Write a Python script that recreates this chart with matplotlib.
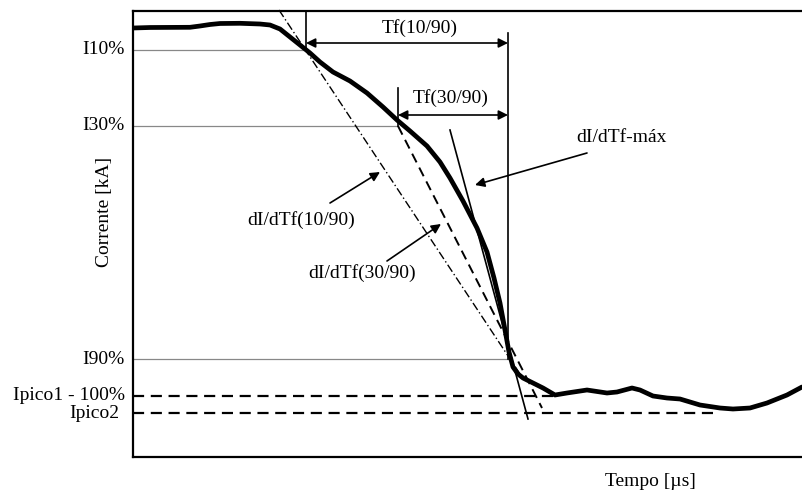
import numpy as np
import matplotlib.pyplot as plt

# Curve (x = time, y = current, both in arbitrary picture units;
# the y axis is inverted so a larger value sits lower)
t_curve = [133, 150, 190, 200, 210, 220, 240, 260, 270, 280, 290, 300, 310,
           320, 333, 350, 367, 383, 397, 410, 427, 440, 450, 463, 477, 487,
           494, 500, 505, 509, 513, 518, 523, 533, 543, 555, 567, 587, 607,
           617, 632, 640, 653, 667, 680, 700, 720, 733, 750, 767, 787, 802]
i_curve = [28, 27.5, 27.3, 26, 24.5, 23.5, 23.3, 24, 25, 29, 37, 45, 53,
           62, 72, 81, 93, 107, 120, 131, 146, 162, 178, 201, 228, 252,
           278, 303, 330, 352, 367, 374, 378, 383, 388, 395, 393, 390, 393,
           392, 388, 390, 396, 398, 399, 405, 408, 409, 408, 403, 395, 387]

# Reference levels and crossing times
level_names = ["I10%", "I30%", "I90%", "Ipico1 - 100%", "Ipico2"]
level_values = [50, 126, 359, 396, 413]
level_ends = [303, 397, 510, 555, 718]

t10, t30, t90 = 306, 398, 508

# Tangent lines (start / end points)
tan1090_t = [279, 520]
tan1090_i = [10, 374]
tan3090_t = [398, 542]
tan3090_i = [126, 408]
tanmax_t = [450, 528]
tanmax_i = [130, 419]

plt.rcParams['font.family'] = ['Liberation Serif', 'DejaVu Serif']

fig = plt.figure(figsize=(8.02, 4.92), dpi=100)
ax = fig.add_axes([133 / 802, 35 / 492, 669 / 802, 446 / 492])
ax.set_xlim(133, 802)
ax.set_ylim(457, 11)

# reference levels
for name, val, end in zip(level_names, level_values, level_ends):
    if name.startswith("Ipico"):
        ax.plot([133, end], [val, val], color='black', lw=1.6, ls=(0, (5, 3)))
    else:
        ax.plot([133, end], [val, val], color='#888888', lw=0.9)
    ax.text(-0.012 if name != "Ipico2" else -0.02, val, name, transform=ax.get_yaxis_transform(),
            ha='right', va='center', fontsize=14)

# vertical markers
ax.plot([t10, t10], [11, 50], color='black', lw=1.2)
ax.plot([t90, t90], [33, 359], color='black', lw=1.2)
ax.plot([t30, t30], [88, 126], color='black', lw=1.2)

# tangents
ax.plot(tan1090_t, tan1090_i, color='black', lw=1.0, ls=(0, (6, 2, 1, 2)), clip_on=False)
ax.plot(tan3090_t, tan3090_i, color='black', lw=1.4, ls=(0, (5, 3)))
ax.plot(tanmax_t, tanmax_i, color='black', lw=1.2)

# main curve
ax.plot(t_curve, i_curve, color='black', lw=3.4, solid_capstyle='round',
        solid_joinstyle='round')

# time intervals
dbl = dict(arrowstyle='<|-|>', color='black', lw=1.2, mutation_scale=14, shrinkA=0, shrinkB=0)
ax.annotate('', xy=(t90, 43), xytext=(t10, 43), arrowprops=dbl)
ax.annotate('', xy=(t90, 115), xytext=(t30, 115), arrowprops=dbl)
ax.text(420, 28, "Tf(10/90)", ha='center', va='center', fontsize=14)
ax.text(451, 98, "Tf(30/90)", ha='center', va='center', fontsize=14)

# slope labels
one = dict(arrowstyle='-|>', color='black', lw=1.2, mutation_scale=14, shrinkA=0, shrinkB=0)
ax.annotate('', xy=(380, 172), xytext=(330, 203), arrowprops=one)
ax.text(301, 220, "dI/dTf(10/90)", ha='center', va='center', fontsize=14)
ax.annotate('', xy=(441, 224), xytext=(387, 261), arrowprops=one)
ax.text(362, 273, "dI/dTf(30/90)", ha='center', va='center', fontsize=14)
ax.annotate('', xy=(475, 185), xytext=(587, 153), arrowprops=one)
ax.text(621, 138, "dI/dTf-máx", ha='center', va='center', fontsize=14)

ax.set_xticks([])
ax.set_yticks([])
ax.spines['right'].set_visible(False)
for s in ['left', 'top', 'bottom']:
    ax.spines[s].set_linewidth(1.6)

fig.text(105 / 802, 1 - 212 / 492, "Corrente [kA]", rotation=90, ha='center', va='center', fontsize=14)
fig.text(650 / 802, 1 - 482 / 492, "Tempo [µs]", ha='center', va='center', fontsize=14)

fig.savefig('out.png', dpi=100)
